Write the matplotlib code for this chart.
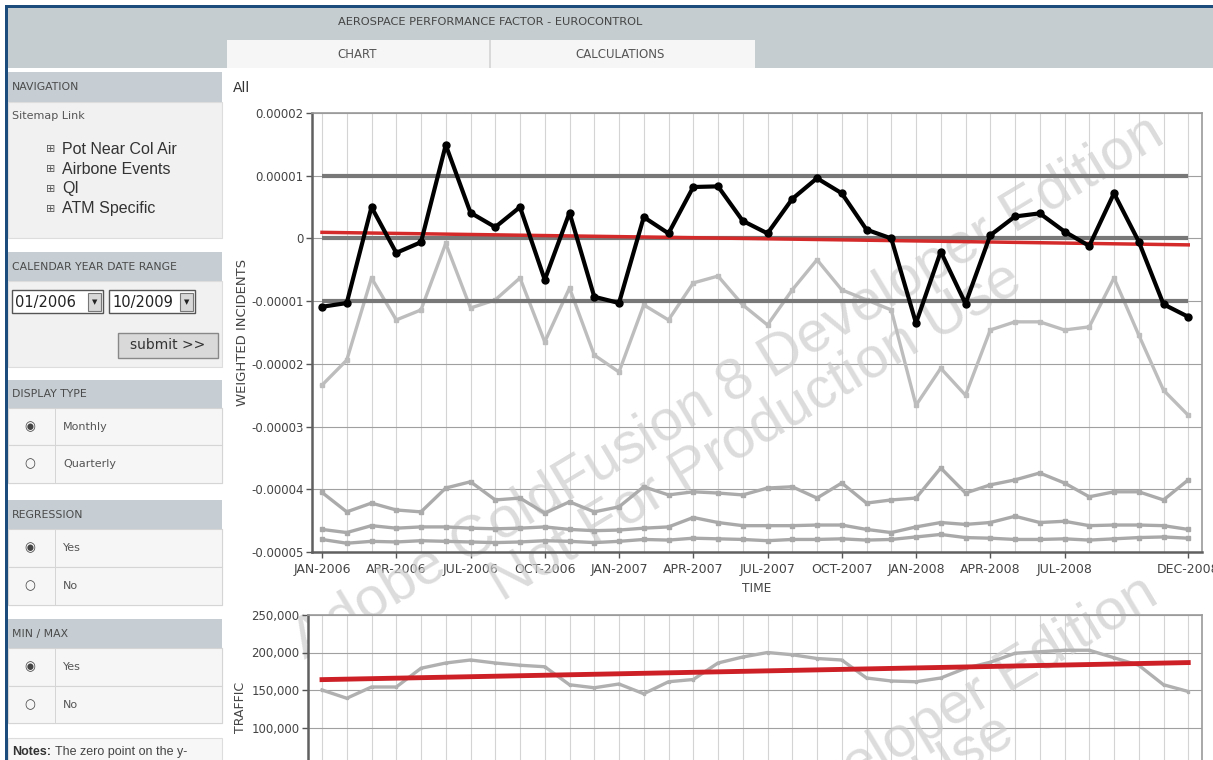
import numpy as np
import matplotlib
matplotlib.use("Agg")
import matplotlib.pyplot as plt
from matplotlib.patches import Rectangle
from matplotlib.ticker import FuncFormatter

plt.rcParams["font.family"] = ["DejaVu Sans"]

W, H = 1213, 760

# --- data -------------------------------------------------------------
# 36 months, JAN-2006 .. DEC-2008
n_months = 36
tick_months = [0, 3, 6, 9, 12, 15, 18, 21, 24, 27, 30, 35]
tick_labels = ["JAN-2006", "APR-2006", "JUL-2006", "OCT-2006", "JAN-2007", "APR-2007",
               "JUL-2007", "OCT-2007", "JAN-2008", "APR-2008", "JUL-2008", "DEC-2008"]

# weighted incidents, in units of 1e-5
all_incidents = [-1.09, -1.03, 0.50, -0.23, -0.06, 1.49, 0.41, 0.18, 0.50, -0.66, 0.41, -0.93,
                 -1.03, 0.34, 0.08, 0.82, 0.83, 0.28, 0.08, 0.63, 0.96, 0.72, 0.14, 0.00,
                 -1.35, -0.21, -1.04, 0.05, 0.35, 0.40, 0.11, -0.12, 0.72, -0.05, -1.05, -1.25]
component_1 = [-2.34, -1.94, -0.63, -1.30, -1.14, -0.08, -1.11, -0.98, -0.63, -1.65, -0.79, -1.86,
               -2.13, -1.06, -1.30, -0.71, -0.60, -1.06, -1.38, -0.82, -0.34, -0.82, -0.98, -1.14,
               -2.66, -2.07, -2.50, -1.46, -1.33, -1.33, -1.46, -1.41, -0.63, -1.54, -2.42, -2.82]
component_2 = [-4.05, -4.36, -4.22, -4.33, -4.36, -3.98, -3.88, -4.17, -4.14, -4.38, -4.20, -4.36,
               -4.28, -3.96, -4.09, -4.04, -4.06, -4.09, -3.98, -3.96, -4.14, -3.90, -4.22, -4.17,
               -4.14, -3.66, -4.06, -3.93, -3.85, -3.74, -3.90, -4.12, -4.04, -4.04, -4.17, -3.85]
component_3 = [-4.64, -4.69, -4.58, -4.62, -4.60, -4.60, -4.62, -4.63, -4.62, -4.60, -4.64, -4.66,
               -4.65, -4.62, -4.60, -4.45, -4.53, -4.58, -4.58, -4.58, -4.57, -4.57, -4.64, -4.69,
               -4.60, -4.53, -4.56, -4.53, -4.43, -4.53, -4.51, -4.58, -4.57, -4.57, -4.58, -4.64]
component_4 = [-4.80, -4.86, -4.83, -4.84, -4.82, -4.83, -4.84, -4.85, -4.84, -4.82, -4.83, -4.85,
               -4.83, -4.80, -4.81, -4.78, -4.79, -4.80, -4.82, -4.80, -4.80, -4.79, -4.81, -4.80,
               -4.76, -4.72, -4.77, -4.78, -4.80, -4.80, -4.79, -4.81, -4.79, -4.77, -4.76, -4.78]
control_limits = [1.0, 0.0, -1.0]

# traffic, thousands of flights
traffic = [150, 139, 154, 154, 179, 186, 190, 186, 183, 181, 157, 153,
           158, 145, 161, 164, 186, 194, 200, 197, 192, 190, 166, 162,
           161, 166, 179, 187, 199, 201, 203, 203, 193, 183, 157, 148]

fig = plt.figure(figsize=(W / 100, H / 100), dpi=100)
fig.patch.set_facecolor("white")


def fx(x):
    return x / W


def fy(y):
    return 1 - y / H


def box(x0, y0, x1, y1, fc, ec="none", lw=0.0, z=0.5):
    fig.add_artist(Rectangle((fx(x0), fy(y1)), (x1 - x0) / W, (y1 - y0) / H,
                             transform=fig.transFigure, fc=fc, ec=ec, lw=lw, zorder=z))


def label(x, y, s, size=6, color="#555555", **kw):
    fig.text(fx(x), fy(y), s, fontsize=size, color=color, va="center", zorder=2, **kw)


# --- page chrome ------------------------------------------------------
box(5, 5, W, 8, "#1b4c7c", z=1)
box(5, 5, 8, H, "#1b4c7c", z=1)
box(8, 8, W, 68, "#c5cdd0")
box(227, 40, 755, 68, "#f6f6f6")
box(489, 40, 490.5, 68, "#d9d9d9")
label(490, 22, "AEROSPACE PERFORMANCE FACTOR - EUROCONTROL", size=8.2, color="#444444", ha="center")
label(357, 54, "CHART", size=8.5, color="#555555", ha="center")
label(620, 54, "CALCULATIONS", size=8.5, color="#555555", ha="center")
label(233, 88, "All", size=10, color="#333333")

sections = [("NAVIGATION", 72, 102, 238), ("CALENDAR YEAR DATE RANGE", 252, 281, 367),
            ("DISPLAY TYPE", 380, 408, 483), ("REGRESSION", 500, 529, 605),
            ("MIN / MAX", 619, 648, 723)]
for name, top, head, bottom in sections:
    box(8, top, 222, head, "#c6ced3")
    box(8, head, 222, bottom, "#f1f1f1", ec="#dddddd", lw=0.8)
    label(12, (top + head) / 2, name, size=7.8, color="#4a4a4a")

label(12, 116, "Sitemap Link", size=8, color="#555555")
for i, item in enumerate(["Pot Near Col Air", "Airbone Events", "QI", "ATM Specific"]):
    yy = 149 + 20 * i
    label(46, yy, "\u229e", size=8, color="#555555")
    label(62, yy, item, size=11.5, color="#333333", family="Liberation Sans")

for x0, x1, txt in [(12, 103, "01/2006"), (109, 195, "10/2009")]:
    box(x0, 290, x1, 313, "white", ec="#555555", lw=1.0)
    label(x0 + 3, 302, txt, size=10.5, color="#222222")
    box(x1 - 15, 292.5, x1 - 2, 310.5, "#d8d8d8", ec="#777777", lw=0.8, z=0.6)
    label(x1 - 8.5, 302, "\u25bc", size=5, color="#222222", ha="center")

box(118, 333, 218, 358, "#d9d9d9", ec="#888888", lw=1.0)
label(168, 345, "submit >>", size=10, color="#333333", ha="center")

radio_rows = [(408, 445, "Monthly", True), (445, 483, "Quarterly", False),
              (529, 567, "Yes", True), (567, 605, "No", False),
              (648, 686, "Yes", True), (686, 723, "No", False)]
for y0, y1, txt, on in radio_rows:
    box(8, y0, 222, y1, "#f6f6f6", ec="#d5d5d5", lw=0.8)
    box(55, y0, 56, y1, "#d5d5d5", z=0.6)
    label(30, (y0 + y1) / 2, "\u25c9" if on else "\u25cb", size=9, color="#444444", ha="center")
    label(63, (y0 + y1) / 2, txt, size=8, color="#555555")

box(8, 738, 222, H + 5, "#f7f7f7", ec="#dddddd", lw=0.8)
label(12, 752, "Notes:", size=9, color="#333333", fontweight="bold", family="Liberation Sans")
label(55, 752, "The zero point on the y-", size=9, color="#444444", family="Liberation Sans")

# --- incidents chart --------------------------------------------------
x = np.arange(n_months)
x0_px, step_px = 322, 24.75


def month_lim(left_px, right_px):
    return (left_px - x0_px) / step_px, (right_px - x0_px) / step_px


def style_axes(ax):
    ax.set_facecolor("white")
    for side in ["left", "bottom"]:
        ax.spines[side].set_color("#606060")
        ax.spines[side].set_linewidth(1.8)
    for side in ["top", "right"]:
        ax.spines[side].set_color("#9a9a9a")
        ax.spines[side].set_linewidth(1.2)
    ax.set_xticks(x, minor=True)
    ax.grid(which="minor", axis="x", color="#d4d4d4", lw=0.8)
    ax.grid(which="major", axis="x", color="#d4d4d4", lw=0.8)
    ax.grid(which="major", axis="y", color="#a0a0a0", lw=0.8)
    ax.set_axisbelow(True)
    ax.tick_params(which="minor", length=0)
    ax.tick_params(which="major", length=4, width=1, colors="#555555", labelsize=8.5,
                   labelcolor="#444444", pad=2)


def watermark(ax, cx, cy, text):
    ax.text(fx(cx), fy(cy), text, transform=fig.transFigure, rotation=31, fontsize=42,
            family="Liberation Sans", color="#cdcdcd", alpha=0.7, ha="center",
            va="center", rotation_mode="anchor", zorder=2.5, clip_on=False)


ax1 = fig.add_axes([fx(312), fy(552), (1202 - 312) / W, (552 - 113) / H])
style_axes(ax1)
ax1.set_xlim(*month_lim(312, 1202))
ax1.set_ylim(-5e-5, 2e-5)
ax1.set_yticks(np.arange(-5, 3) * 1e-5)
ax1.yaxis.set_major_formatter(FuncFormatter(lambda v, _: "0" if abs(v) < 1e-12 else f"{v:.5f}"))
ax1.set_xticks(tick_months)
ax1.set_xticklabels(tick_labels, fontsize=9)
ax1.tick_params(axis="x", pad=4)

for series, col in [(component_4, "#a9a9a9"), (component_3, "#a9a9a9"),
                    (component_2, "#ababab"), (component_1, "#bdbdbd")]:
    ax1.plot(x, np.array(series) * 1e-5, color=col, lw=2.4, marker="s", ms=2.5, zorder=3)

ax1.hlines(np.array(control_limits) * 1e-5, 0, n_months - 1, colors="#787878", lw=3, zorder=3.5)

y_all = np.array(all_incidents) * 1e-5
fit = np.polyfit(x, y_all, 1)
ax1.plot(x[[0, -1]], np.polyval(fit, x[[0, -1]]), color="#d42a2a", lw=2.5, zorder=4)
ax1.plot(x, y_all, color="black", lw=3, marker="o", ms=5, zorder=5)

watermark(ax1, 728, 388, "Adobe ColdFusion 8 Developer Edition")
watermark(ax1, 756, 432, "Not For Production Use")

fig.text(fx(242), fy(332), "WEIGHTED INCIDENTS", rotation=90, fontsize=9.5, color="#444444",
         ha="center", va="center")
fig.text(fx(757), fy(588), "TIME", fontsize=8.7, color="#444444", ha="center", va="center")

# --- traffic chart ----------------------------------------------------
ax2 = fig.add_axes([fx(308), fy(802.5), (1202 - 308) / W, (802.5 - 615) / H])
style_axes(ax2)
ax2.set_xlim(*month_lim(308, 1202))
ax2.set_ylim(0, 250000)
ax2.set_yticks(np.arange(100000, 250001, 50000))
ax2.yaxis.set_major_formatter(FuncFormatter(lambda v, _: f"{v:,.0f}"))
ax2.set_xticks(tick_months)
ax2.set_xticklabels([])

y_traffic = np.array(traffic) * 1000
ax2.plot(x, y_traffic, color="#b0b0b0", lw=2.4, marker="s", ms=2, zorder=3)
fit2 = np.polyfit(x, y_traffic, 1)
ax2.plot(x[[0, -1]], np.polyval(fit2, x[[0, -1]]), color="#cc1f26", lw=3.5, zorder=4)

watermark(ax2, 722, 848, "Adobe ColdFusion 8 Developer Edition")
watermark(ax2, 748, 885, "Not For Production Use")

fig.text(fx(241), fy(707), "TRAFFIC", rotation=90, fontsize=9, color="#444444",
         ha="center", va="center")

fig.savefig("out.png", dpi=100)
